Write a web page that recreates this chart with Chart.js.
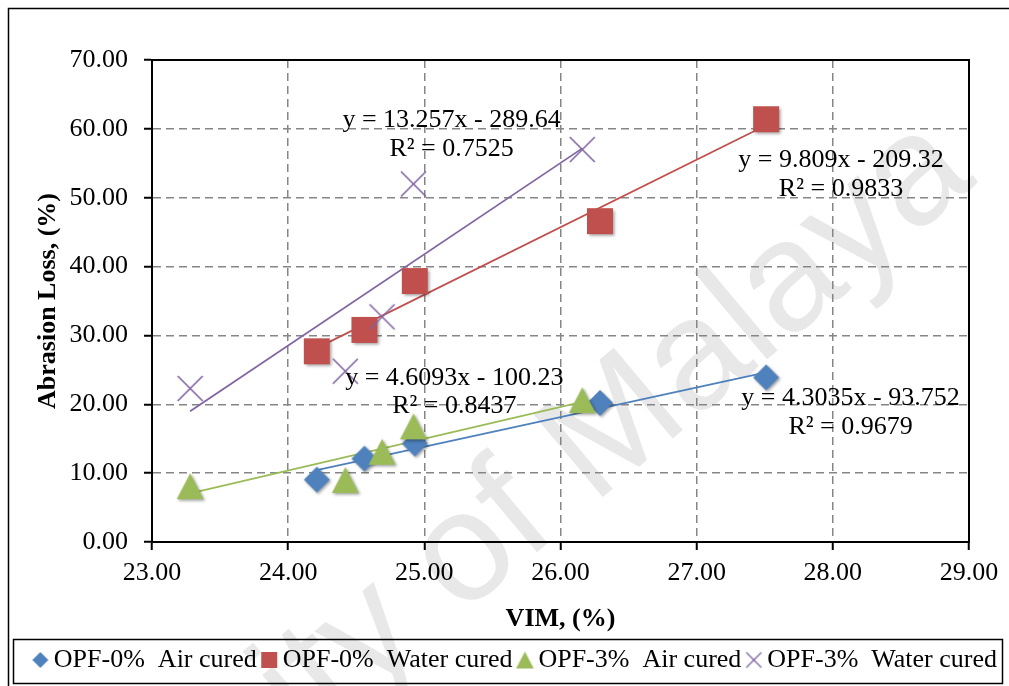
<!DOCTYPE html>
<html>
<head>
<meta charset="utf-8">
<script src="https://cdn.jsdelivr.net/npm/chart.js@4.4.1/dist/chart.umd.min.js"></script>
<style>
  html, body { margin: 0; padding: 0; background: #ffffff; }
  #wrap { width: 1009px; height: 686px; position: relative; }
</style>
</head>
<body>
<div id="wrap"><canvas id="chart" width="1009" height="686"></canvas></div>
<script>
// ---- data ----
const seriesNames = ['OPF-0%  Air cured', 'OPF-0%  Water cured', 'OPF-3%  Air cured', 'OPF-3%  Water cured'];
const vimOpf0 = [24.21, 24.56, 24.93, 26.29, 27.51];
const vimOpf3 = [23.28, 24.42, 24.69, 24.92, 26.16];
const lossOpf0Air = [9.05, 12.1, 14.3, 20.2, 23.9];
const lossOpf0Water = [27.7, 30.8, 37.9, 46.6, 61.4];
const lossOpf3Air = [8.1, 9.0, 13.1, 16.8, 20.6];
const lossOpf3Water = [22.3, 24.8, 32.7, 52.0, 57.0];
const trendSlopes = [4.3035, 9.809, 4.6093, 13.257];
const trendIntercepts = [-93.752, -209.32, -100.23, -289.64];
const trendR2 = [0.9679, 0.9833, 0.8437, 0.7525];
const xTickValues = [23, 24, 25, 26, 27, 28, 29];
const yTickValues = [0, 10, 20, 30, 40, 50, 60, 70];

// ---- styling ----
const colors = ['#4F81BD', '#C0504D', '#9BBB59', '#8064A2'];
const serif = '"Liberation Serif", "Times New Roman", serif';
Chart.defaults.font.family = serif;
Chart.defaults.color = '#000000';

// marker images (Excel-like markers with a soft drop shadow)
function makeMarker(shape, color, size, shadow) {
  const pad = shadow ? 5 : 2;
  const dim = size + pad * 2;
  const c = document.createElement('canvas');
  c.width = dim; c.height = dim;
  const g = c.getContext('2d');
  const m = dim / 2, h = size / 2;
  if (shadow && shape !== 'cross') {
    g.shadowColor = 'rgba(0,0,0,0.38)';
    g.shadowBlur = 3;
    g.shadowOffsetX = 1.5;
    g.shadowOffsetY = 1.5;
  }
  g.fillStyle = color;
  g.strokeStyle = color;
  g.beginPath();
  if (shape === 'diamond') {
    g.moveTo(m, m - h); g.lineTo(m + h, m); g.lineTo(m, m + h); g.lineTo(m - h, m); g.closePath(); g.fill();
  } else if (shape === 'square') {
    g.rect(m - h, m - h, size, size); g.fill();
  } else if (shape === 'triangle') {
    g.moveTo(m, m - h); g.lineTo(m + h * 1.04, m + h); g.lineTo(m - h * 1.04, m + h); g.closePath(); g.fill();
  } else {
    g.lineWidth = shadow ? 1.6 : 1.4;
    g.moveTo(m - h, m - h); g.lineTo(m + h, m + h);
    g.moveTo(m + h, m - h); g.lineTo(m - h, m + h);
    g.stroke();
  }
  return c;
}
const plotMarkers = [makeMarker('diamond', colors[0], 26, true), makeMarker('square', colors[1], 26, true),
                     makeMarker('triangle', colors[2], 26, true), makeMarker('cross', colors[3], 25, true)];
const legendMarkers = [makeMarker('diamond', colors[0], 16, false), makeMarker('square', colors[1], 16, false),
                       makeMarker('triangle', colors[2], 17, false), makeMarker('cross', colors[3], 15, false)];

// ---- datasets ----
const xsBySeries = [vimOpf0, vimOpf0, vimOpf3, vimOpf3];
const ysBySeries = [lossOpf0Air, lossOpf0Water, lossOpf3Air, lossOpf3Water];

const datasets = [];
seriesNames.forEach((name, i) => {
  datasets.push({
    label: name,
    data: xsBySeries[i].map((x, k) => ({ x: x, y: ysBySeries[i][k] })),
    pointStyle: plotMarkers[i],
    pointRadius: 13,
    pointHoverRadius: 13,
    backgroundColor: colors[i],
    borderColor: colors[i],
    showLine: false,
    order: 4 - i
  });
});
// linear trend lines, from the smallest to the largest VIM of each series
seriesNames.forEach((name, i) => {
  const xs = xsBySeries[i];
  const x0 = Math.min(...xs), x1 = Math.max(...xs);
  datasets.push({
    label: 'trend ' + name,
    data: [x0, x1].map(x => ({ x: x, y: trendSlopes[i] * x + trendIntercepts[i] })),
    showLine: true,
    borderColor: colors[i],
    borderWidth: 1.75,
    pointRadius: 0,
    pointHoverRadius: 0,
    fill: false,
    order: 20 - i
  });
});

function equationText(i) {
  const b = trendIntercepts[i];
  return 'y = ' + trendSlopes[i] + 'x ' + (b < 0 ? '- ' : '+ ') + Math.abs(b);
}

// ---- plugins ----
const pagePlugin = {
  id: 'page',
  beforeDraw(chart) {
    const ctx = chart.ctx;
    ctx.save();
    ctx.fillStyle = '#ffffff';
    ctx.fillRect(0, 0, chart.width, chart.height);
    // faint diagonal watermark, anchored on the centre of the letter "f"
    const size = 156;
    ctx.font = size + 'px "Liberation Sans", Arial, sans-serif';
    const ang = -40 * Math.PI / 180;
    const dir = [Math.cos(ang), Math.sin(ang)];
    const up = [Math.sin(ang), -Math.cos(ang)];
    const lead = ctx.measureText('University o').width + ctx.measureText('f').width / 2;
    const fx = 507, fy = 504, rise = 0.36 * size;
    const bx = fx - up[0] * rise, by = fy - up[1] * rise;
    ctx.translate(bx - dir[0] * lead, by - dir[1] * lead);
    ctx.rotate(ang);
    ctx.fillStyle = '#e8e8e8';
    ctx.textBaseline = 'alphabetic';
    ctx.fillText('University of Malaya', 0, 0);
    ctx.restore();
  },
  afterDraw(chart) {
    const ctx = chart.ctx;
    const a = chart.chartArea;
    ctx.save();
    // plot area frame
    ctx.strokeStyle = '#000000';
    ctx.lineWidth = 2;
    ctx.strokeRect(a.left, a.top, a.right - a.left, a.bottom - a.top);
    // outer frame
    ctx.lineWidth = 1.5;
    ctx.strokeRect(8.5, 8.5, 1100, 1100);
    // legend frame
    const lg = chart.legend;
    ctx.strokeRect(13.5, lg.top + 4.5, 989, lg.bottom - lg.top - 4);
    ctx.restore();
  }
};

const trendLabelPlugin = {
  id: 'trendLabels',
  afterDatasetsDraw(chart, args, opts) {
    const ctx = chart.ctx;
    const sx = chart.scales.x, sy = chart.scales.y;
    ctx.save();
    ctx.font = '26px ' + serif;
    ctx.fillStyle = '#000000';
    ctx.textAlign = 'center';
    ctx.textBaseline = 'middle';
    opts.anchors.forEach((p, i) => {
      const px = sx.getPixelForValue(p[0]);
      ctx.fillText(equationText(i), px, sy.getPixelForValue(p[1]));
      ctx.fillText('R\u00B2 = ' + trendR2[i], px, sy.getPixelForValue(p[2]));
    });
    ctx.restore();
  }
};

new Chart(document.getElementById('chart'), {
  type: 'scatter',
  data: { datasets: datasets },
  plugins: [pagePlugin, trendLabelPlugin],
  options: {
    responsive: false,
    animation: false,
    events: [],
    layout: { padding: { left: 6, right: 0, top: 60, bottom: 3 } },
    scales: {
      x: {
        type: 'linear',
        min: xTickValues[0],
        max: xTickValues[xTickValues.length - 1],
        afterBuildTicks(s) { s.ticks = xTickValues.map(v => ({ value: v })); },
        afterFit(s) { s.height = 93; },
        ticks: { font: { size: 26 }, padding: 8, callback: v => Number(v).toFixed(2), maxRotation: 0 },
        grid: { color: '#868686', lineWidth: 1.5, tickLength: 8, tickColor: '#000000', tickWidth: 2 },
        border: { display: true, color: '#000000', width: 2, dash: [8, 5] },
        title: { display: true, text: 'VIM, (%)', font: { size: 26, weight: 'bold' }, padding: { top: 0, bottom: 0 } }
      },
      y: {
        type: 'linear',
        min: yTickValues[0],
        max: yTickValues[yTickValues.length - 1],
        afterBuildTicks(s) { s.ticks = yTickValues.map(v => ({ value: v })); },
        afterFit(s) { s.width = 146; },
        ticks: { font: { size: 26 }, padding: 16, callback: v => Number(v).toFixed(2) },
        grid: { color: '#868686', lineWidth: 1.5, tickLength: 8, tickColor: '#000000', tickWidth: 2 },
        border: { display: true, color: '#000000', width: 2, dash: [8, 5] },
        title: { display: true, text: 'Abrasion Loss, (%)', font: { size: 26, weight: 'bold' }, padding: { top: 27, bottom: 0 } }
      },
      yRight: {
        type: 'linear',
        position: 'right',
        display: true,
        afterFit(s) { s.width = 40; },
        ticks: { display: false },
        grid: { display: false, drawOnChartArea: false, drawTicks: false },
        border: { display: false }
      }
    },
    plugins: {
      tooltip: { enabled: false },
      legend: {
        display: true,
        position: 'bottom',
        align: 'end',
        labels: {
          usePointStyle: true,
          boxWidth: 1,
          boxHeight: 1,
          padding: 12,
          color: '#000000',
          font: { size: 26 },
          filter: item => item.datasetIndex < seriesNames.length,
          sort: (a, b) => a.datasetIndex - b.datasetIndex,
          generateLabels(chart) {
            const items = Chart.defaults.plugins.legend.labels.generateLabels(chart);
            items.forEach(it => { if (it.datasetIndex < legendMarkers.length) it.pointStyle = legendMarkers[it.datasetIndex]; });
            return items;
          }
        }
      },
      trendLabels: {
        anchors: [[28.13, 20.9, 16.7], [28.06, 55.5, 51.3], [25.22, 23.8, 19.7], [25.20, 61.2, 57.0]]
      }
    }
  }
});
</script>
</body>
</html>
